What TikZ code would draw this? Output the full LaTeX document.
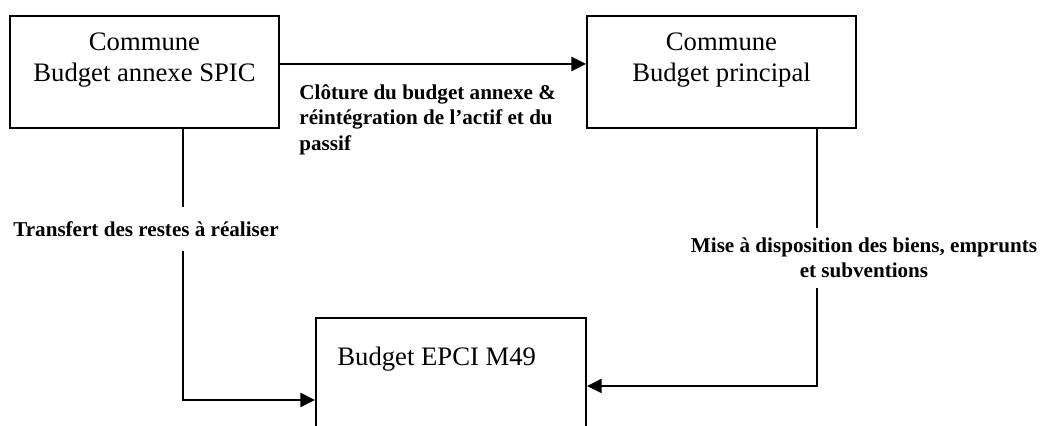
\documentclass[tikz,border=0pt]{standalone}
\usepackage{fontspec}
\setmainfont{Liberation Serif}
\usetikzlibrary{arrows.meta,positioning,calc}

\begin{document}
\begin{tikzpicture}[x=0.45pt,y=0.45pt]
  % Styles
  \tikzset{
    boite/.style={draw=black, line width=0.9pt, minimum width=121pt, minimum height=50.4pt, inner sep=0pt},
    titre/.style={font=\fontsize{12}{13.8}\selectfont, align=center, inner sep=0pt},
    fleche/.style={-{Triangle[length=6.6pt,width=6.4pt]}, line width=0.75pt},
    legende/.style={font=\fontsize{9.5}{11.5}\selectfont\bfseries, fill=white, inner xsep=1pt},
  }

  % Cadre
  \useasboundingbox (0,0) rectangle (1042,426);
  \clip (0,0) rectangle (1042,426);

  % Boites
  \node[boite] (spic) at (144.5,354) {};
  \node[boite] (princ) at (721.5,354) {};
  \node[boite, minimum width=121.5pt, minimum height=61.2pt] (epci) at (451,40) {};

  % Textes des boites
  \node[titre, below=8pt of spic.north] (spictxt) {Commune\\Budget annexe SPIC};
  \node[titre, below=8pt of princ.north] (princtxt) {Commune\\Budget principal};
  \node[titre, anchor=north west] (epcitxt) at ($(epci.north west)+(22,-30)$) {Budget EPCI M49};

  % Liaisons
  \draw[fleche] ($(spic.east)+(0,8)$) -- ($(princ.west)+(0,8)$);
  \draw[fleche] ($(spic.south)+(38.5,0)$) |- ($(epci.west)+(0,-14)$);
  \draw[fleche] ($(princ.south)+(95.5,0)$) |- (epci.east);

  % Legendes
  \node[legende, align=left, anchor=north west, fill=none, inner sep=0pt] (cloture) at (299,342)
    {Clôture du budget annexe \&\\réintégration de l’actif et du\\passif};
  \node[legende, inner ysep=6.5pt] (transfert) at (146,197) {Transfert des restes à réaliser};
  \node[legende, align=center, inner ysep=4.5pt] (mise) at (864,168)
    {Mise à disposition des biens, emprunts\\et subventions};
\end{tikzpicture}
\end{document}
